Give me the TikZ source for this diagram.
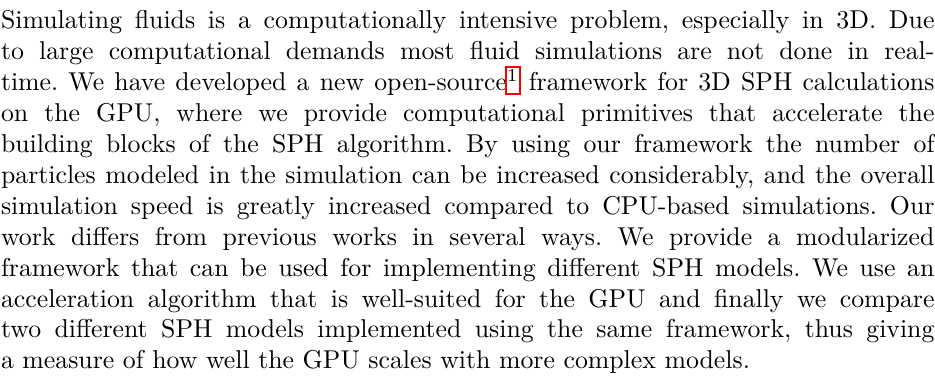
\documentclass[tikz,border=0pt]{standalone}
\usepackage{tikz}
\usetikzlibrary{positioning}
\tikzset{
  abstract/.style={text width=362pt, align=justify, inner sep=0pt, anchor=north west, font=\normalsize},
}
% footnote mark with a red link frame round it
\newcommand{\fnlink}[1]{%
  \setbox0=\hbox{\textsuperscript{#1}}%
  \rlap{\kern-0.8pt\textcolor{red}{\setlength{\fboxsep}{0pt}\setlength{\fboxrule}{0.8pt}%
    \fbox{\rule[-1.1pt]{0pt}{9.9pt}\kern\wd0}}}\box0\relax}

\begin{document}
\begin{tikzpicture}
  \useasboundingbox (0,0) rectangle (362.6pt,-148.53pt);
  % the abstract
  \node[abstract] (abstract) at (0.2pt,-2.46pt) {\noindent\frenchspacing\strut
    Simulating fluids is a computationally intensive problem, especially in 3D. Due\linebreak
    to large computational demands most fluid simulations are not done in real-\linebreak
    time. We have developed a new open-source\fnlink{1} framework for 3D SPH calculations\linebreak
    on the GPU, where we provide computational primitives that accelerate the\linebreak
    building blocks of the SPH algorithm. By using our framework the number of\linebreak
    particles modeled in the simulation can be increased considerably, and the overall\linebreak
    simulation speed is greatly increased compared to CPU-based simulations. Our\linebreak
    work differs from previous works in several ways. We provide a modularized\linebreak
    framework that can be used for implementing different SPH models. We use an\linebreak
    acceleration algorithm that is well-suited for the GPU and finally we compare\linebreak
    two different SPH models implemented using the same framework, thus giving\linebreak
    a measure of how well the GPU scales with more complex models.};
\end{tikzpicture}
\end{document}
